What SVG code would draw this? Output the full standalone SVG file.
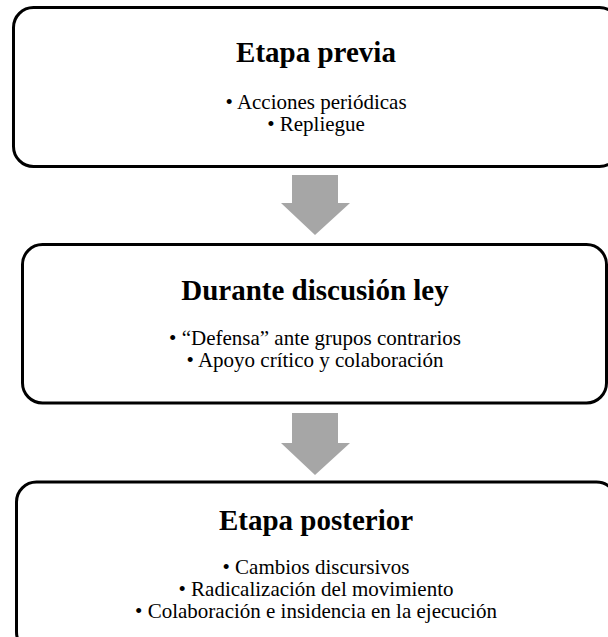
<svg xmlns="http://www.w3.org/2000/svg" width="608" height="637" viewBox="0 0 608 637">
<style>
.box{fill:#fff;stroke:#000;stroke-width:3}
.arrow{fill:#a6a6a6;stroke:none}
.title{font-family:"Liberation Serif",serif;font-weight:bold;font-size:29px;fill:#000;text-anchor:middle}
.item{font-family:"Liberation Serif",serif;font-size:21px;fill:#000;text-anchor:middle}
</style>
<rect width="608" height="637" fill="#fff"/>
<g id="connectors">
<path class="arrow" d="M292,175 H338 V203 H350 L315,235 L281,203 H292 Z"/>
<path class="arrow" d="M292,413 H338 V443 H350 L315,475 L281,443 H292 Z"/>
</g>
<g id="node-etapa-previa">
<rect class="box" x="13.5" y="7.5" width="606" height="159" rx="20"/>
<text class="title" x="316" y="62">Etapa previa</text>
<text class="item" x="316" y="109">• Acciones periódicas</text>
<text class="item" x="316" y="131">• Repliegue</text>
</g>
<g id="node-durante">
<rect class="box" x="22.5" y="244.5" width="584" height="158.5" rx="20"/>
<text class="title" x="315" y="300">Durante discusión ley</text>
<text class="item" x="315" y="345">• “Defensa” ante grupos contrarios</text>
<text class="item" x="315" y="367">• Apoyo crítico y colaboración</text>
</g>
<g id="node-etapa-posterior">
<rect class="box" x="16.5" y="482" width="600" height="170" rx="20"/>
<text class="title" x="316" y="530">Etapa posterior</text>
<text class="item" x="316" y="574">• Cambios discursivos</text>
<text class="item" x="316" y="596">• Radicalización del movimiento</text>
<text class="item" x="316" y="618">• Colaboración e insidencia en la ejecución</text>
</g>
</svg>
